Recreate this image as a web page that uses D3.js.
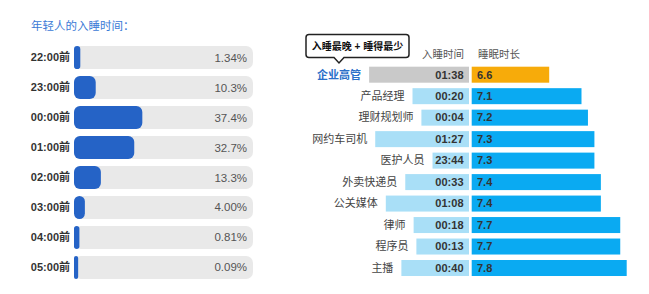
<!DOCTYPE html>
<html>
<head>
<meta charset="utf-8">
<script src="https://cdn.jsdelivr.net/npm/d3@7"></script>
<style>
  body { margin: 0; background: #fff; }
  svg { font-family: "Liberation Sans", "Noto Sans CJK SC", sans-serif; }
</style>
</head>
<body>
<div id="chart"></div>
<script>
// Left panel: bedtime distribution
const bedtimeLabels = ["22:00前", "23:00前", "00:00前", "01:00前", "02:00前", "03:00前", "04:00前", "05:00前"];
const bedtimeShares = [1.34, 10.3, 37.4, 32.7, 13.3, 4.00, 0.81, 0.09];
const shareText = ["1.34%", "10.3%", "37.4%", "32.7%", "13.3%", "4.00%", "0.81%", "0.09%"];

// Right panel: by profession
const jobs = ["企业高管", "产品经理", "理财规划师", "网约车司机", "医护人员", "外卖快递员", "公关媒体", "律师", "程序员", "主播"];
const jobBedtimes = ["01:38", "00:20", "00:04", "01:27", "23:44", "00:33", "01:08", "00:18", "00:13", "00:40"];
const jobSleepHours = [6.6, 7.1, 7.2, 7.3, 7.3, 7.4, 7.4, 7.7, 7.7, 7.8];

const width = 649, height = 294;
const svg = d3.select("#chart").append("svg")
    .attr("width", width)
    .attr("height", height);

// ---------- left panel ----------
svg.append("text")
    .attr("x", 31).attr("y", 30)
    .attr("fill", "#3b7ad6")
    .style("font-size", "11.5px")
    .text("年轻人的入睡时间：");

const yLeft = d3.scaleBand()
    .domain(bedtimeLabels)
    .range([43, 282])
    .paddingInner(0.23)
    .paddingOuter(0.1);

const trackX = 74, trackW = 179;
const xShare = d3.scaleLinear().domain([0, 100]).range([0, 172]);

const left = svg.append("g");
const rowL = left.selectAll("g.row")
    .data(bedtimeLabels)
    .join("g")
    .attr("class", "row")
    .attr("transform", d => `translate(0,${yLeft(d)})`);

rowL.append("rect")
    .attr("x", trackX).attr("width", trackW)
    .attr("height", yLeft.bandwidth())
    .attr("rx", 7)
    .attr("fill", "#e9e9e9");

rowL.append("rect")
    .attr("x", trackX)
    .attr("width", (d, i) => 4 + xShare(bedtimeShares[i]))
    .attr("height", yLeft.bandwidth())
    .attr("rx", (d, i) => Math.min(6, (4 + xShare(bedtimeShares[i])) / 2))
    .attr("fill", "#2563c6");

rowL.append("text")
    .attr("x", 70)
    .attr("y", yLeft.bandwidth() / 2)
    .attr("dy", "0.35em")
    .attr("text-anchor", "end")
    .attr("fill", "#333")
    .style("font-size", "11px")
    .style("font-weight", "bold")
    .text(d => d);

rowL.append("text")
    .attr("x", 247)
    .attr("y", yLeft.bandwidth() / 2)
    .attr("dy", "0.35em")
    .attr("text-anchor", "end")
    .attr("fill", "#555")
    .style("font-size", "11.5px")
    .text((d, i) => shareText[i]);

// ---------- right panel ----------
const yRight = d3.scaleBand()
    .domain(jobs)
    .range([63.9, 278.8])
    .paddingInner(0.255)
    .paddingOuter(0.13);

// bedtime bar grows leftwards: minutes after 23:00
const toMinutes = s => {
    const [h, m] = s.split(":").map(Number);
    return ((h + 1) % 24) * 60 + m;
};
const bedEdge = 469;
const xBed = d3.scaleLinear().domain([0, 160]).range([12, 101]);
const durStart = 471.7;
const xDur = d3.scaleLinear().domain([5.4, 7.8]).range([0, 155]);

const right = svg.append("g");
const rowR = right.selectAll("g.row")
    .data(jobs)
    .join("g")
    .attr("class", "row")
    .attr("transform", d => `translate(0,${yRight(d)})`);

rowR.append("rect")
    .attr("x", (d, i) => bedEdge - xBed(toMinutes(jobBedtimes[i])))
    .attr("width", (d, i) => xBed(toMinutes(jobBedtimes[i])))
    .attr("height", yRight.bandwidth())
    .attr("fill", (d, i) => i === 0 ? "#c9c9c9" : "#a9dff7");

rowR.append("rect")
    .attr("x", durStart)
    .attr("width", (d, i) => xDur(jobSleepHours[i]))
    .attr("height", yRight.bandwidth())
    .attr("fill", (d, i) => i === 0 ? "#f7ab0a" : "#0aaaf2");

rowR.append("text")
    .attr("x", 463.5)
    .attr("y", yRight.bandwidth() / 2)
    .attr("dy", "0.35em")
    .attr("text-anchor", "end")
    .attr("fill", "#333")
    .style("font-size", "11px")
    .style("font-weight", "bold")
    .text((d, i) => jobBedtimes[i]);

rowR.append("text")
    .attr("x", 477)
    .attr("y", yRight.bandwidth() / 2)
    .attr("dy", "0.35em")
    .attr("fill", "#333")
    .style("font-size", "11px")
    .style("font-weight", "bold")
    .text((d, i) => jobSleepHours[i].toFixed(1));

rowR.append("text")
    .attr("x", (d, i) => bedEdge - xBed(toMinutes(jobBedtimes[i])) - 8)
    .attr("y", yRight.bandwidth() / 2)
    .attr("dy", "0.35em")
    .attr("text-anchor", "end")
    .attr("fill", (d, i) => i === 0 ? "#2a6fc9" : "#444")
    .style("font-size", "11px")
    .style("font-weight", (d, i) => i === 0 ? "bold" : "normal")
    .text(d => d);

// column headers
svg.append("text")
    .attr("x", 443).attr("y", 58)
    .attr("text-anchor", "middle")
    .attr("fill", "#555")
    .style("font-size", "10.5px")
    .text("入睡时间");
svg.append("text")
    .attr("x", 478).attr("y", 58)
    .attr("fill", "#555")
    .style("font-size", "10.5px")
    .text("睡眠时长");

// callout
const callout = svg.append("g");
callout.append("path")
    .attr("d", "M309,34.5 H406 Q409,34.5 409,37.5 V54.5 Q409,57.5 406,57.5 H344 L339,63 L334,57.5 H309 Q306,57.5 306,54.5 V37.5 Q306,34.5 309,34.5 Z")
    .attr("fill", "#fff")
    .attr("stroke", "#222")
    .attr("stroke-width", 1.5);
callout.append("text")
    .attr("x", 357.5).attr("y", 46)
    .attr("dy", "0.35em")
    .attr("text-anchor", "middle")
    .attr("fill", "#111")
    .style("font-size", "10px")
    .style("font-weight", "bold")
    .text("入睡最晚 + 睡得最少");
</script>
</body>
</html>
